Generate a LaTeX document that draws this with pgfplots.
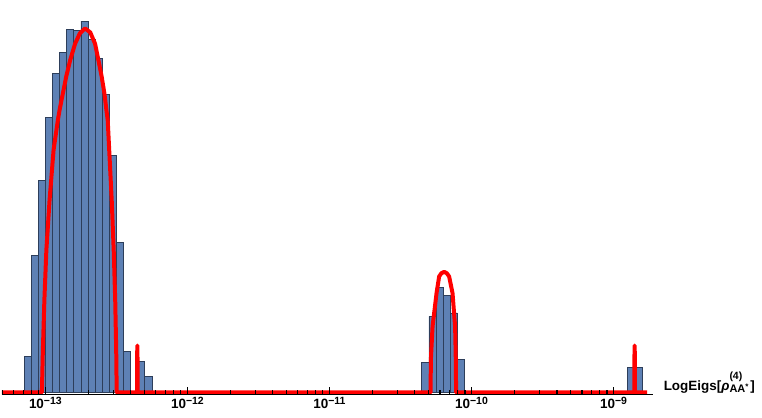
\documentclass[border=0pt]{standalone}
\usepackage{pgfplots}
\pgfplotsset{compat=1.18}
\usepackage{fontspec}
\setmainfont{Liberation Sans}

\definecolor{barfill}{RGB}{94,129,181}
\definecolor{baredge}{RGB}{45,62,90}

% tick label: bold 10 with a smaller raised exponent
\newcommand{\tl}[1]{\textbf{10\raisebox{3.5pt}{\fontsize{10.5}{10.5}\selectfont #1}}}

\begin{document}
\begin{tikzpicture}
\begin{axis}[
    scale only axis,
    width=653pt, height=395.5pt,
    xmin=-13.3055, xmax=-8.7198,
    ymin=-2, ymax=393.5,
    axis x line*=bottom,
    axis y line=none,
    axis on top,
    clip=false,
    axis line style={line width=1.3pt},
    xtick={-13,-12,-11,-10,-9},
    xticklabels={\tl{−13},\tl{−12},\tl{−11},\tl{−10},\tl{−9}},
    minor xtick={-13.30103,-13.22185,-13.15490,-13.09691,-13.04576,
        -12.69897,-12.52288,-12.39794,-12.30103,-12.22185,-12.15490,-12.09691,-12.04576,
        -11.69897,-11.52288,-11.39794,-11.30103,-11.22185,-11.15490,-11.09691,-11.04576,
        -10.69897,-10.52288,-10.39794,-10.30103,-10.22185,-10.15490,-10.09691,-10.04576,
        -9.69897,-9.52288,-9.39794,-9.30103,-9.22185,-9.15490,-9.09691,-9.04576},
    major tick length=7.5pt,
    minor tick length=4.5pt,
    tick style={black, line width=1.1pt},
    xticklabel style={font=\fontsize{13.5}{13.5}\selectfont, inner sep=0pt, yshift=-3pt},
    xlabel={\textbf{LogEigs[\textit{ρ}\rlap{\raisebox{11pt}{\fontsize{10.5}{10.5}\selectfont (4)}}\raisebox{-2pt}{\fontsize{11}{11}\selectfont AA\raisebox{3pt}{\fontsize{8}{8}\selectfont *}}\hspace{2pt}]}},
    xlabel style={at={(axis description cs:1,0)}, anchor=base west, inner sep=0pt,
        xshift=10.3pt, yshift=3.5pt, font=\fontsize{13.5}{13.5}\selectfont},
]
% histogram, first cluster
\addplot[ybar interval, fill=barfill, draw=baredge, line width=0.7pt] coordinates {
(-13.15,36.3) (-13.10,137) (-13.05,213) (-13.00,275.7) (-12.95,319.7)
(-12.90,341.3) (-12.85,364) (-12.80,363.3) (-12.75,372.3) (-12.70,353.7)
(-12.65,335) (-12.60,298.7) (-12.55,237.7) (-12.50,150.3) (-12.45,41.3)
(-12.40,1.3) (-12.35,30.7) (-12.30,15.7) (-12.25,0)};
% second cluster
\addplot[ybar interval, fill=barfill, draw=baredge, line width=0.7pt] coordinates {
(-10.35,29.7) (-10.30,76.3) (-10.25,105.3) (-10.20,97.3) (-10.15,79.7)
(-10.10,33) (-10.05,0)};
% third cluster
\addplot[ybar interval, fill=barfill, draw=baredge, line width=0.7pt] coordinates {
(-8.90,25.3) (-8.85,25.3) (-8.80,0)};
% fitted density
\addplot[red, line width=4pt, line join=round] coordinates {
(-13.3055,0) (-13.0246,0) (-13.0176,43) (-13.0070,93) (-12.9930,143)
(-12.9705,193) (-12.9424,243) (-12.9122,273) (-12.9003,283) (-12.8771,299.7)
(-12.8539,316.3) (-12.8258,333) (-12.7907,349.7) (-12.7577,360) (-12.7205,365)
(-12.6840,361) (-12.6503,349.7) (-12.6264,333) (-12.6032,316.3) (-12.5843,299.7)
(-12.5702,283) (-12.5611,273) (-12.5506,243) (-12.5330,193) (-12.5190,143)
(-12.5084,93) (-12.5014,43) (-12.4979,0)
(-12.3545,0) (-12.3535,40) (-12.3525,47) (-12.3515,40) (-12.3505,0)
(-10.2879,0) (-10.2858,33) (-10.2739,66.3) (-10.2458,99.7) (-10.2275,116.3)
(-10.2121,119.5) (-10.1924,121) (-10.1735,119.5) (-10.1573,116.3) (-10.1334,99.7)
(-10.1152,66.3) (-10.1103,33) (-10.1081,0)
(-8.8531,0) (-8.8521,40) (-8.8511,47) (-8.8501,40) (-8.8491,0)
(-8.764,0)};
\end{axis}
\path (current axis.north west);
\path (current axis.south west) ++(0,-23.5pt);
\path (current axis.south east) ++(109pt,0);
\end{tikzpicture}
\end{document}
